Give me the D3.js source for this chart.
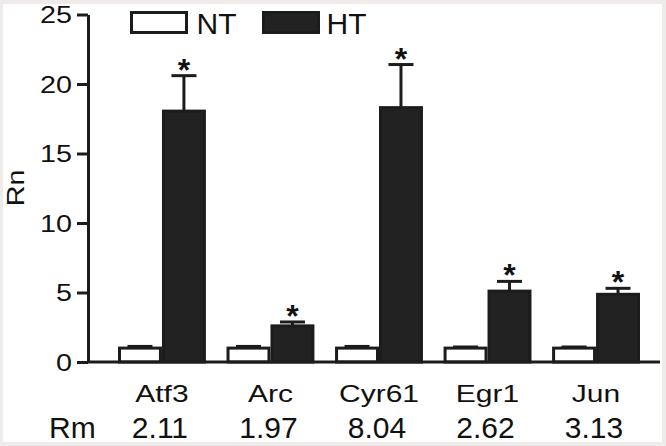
<!DOCTYPE html>
<html>
<head>
<meta charset="utf-8">
<script src="https://cdn.jsdelivr.net/npm/d3@7"></script>
<style>
  body { margin: 0; background: #efebeb; }
  text { font-family: "Liberation Sans", Arial, sans-serif; fill: #111; }
</style>
</head>
<body>
<svg id="chart" width="666" height="446"></svg>
<script>
// data
var genes = ['Atf3', 'Arc', 'Cyr61', 'Egr1', 'Jun'],
    rmValues = ['2.11', '1.97', '8.04', '2.62', '3.13'],
    ntMean = [1, 1, 1, 1, 1],
    ntErr = [0.12, 0.12, 0.12, 0.08, 0.08],
    htMean = [18.05, 2.6, 18.3, 5.1, 4.87],
    htErr = [2.55, 0.28, 3.1, 0.7, 0.43],
    yTicks = [0, 5, 10, 15, 20, 25],
    series = ['NT', 'HT'];

var svg = d3.select('#chart'),
    ink = '#1c1c1c',
    stretch = 1.25;

// white panel on a grey page
svg.append('rect')
    .attr('x', 3).attr('y', 4)
    .attr('width', 659).attr('height', 438)
    .attr('fill', '#fff');

var x0 = d3.scaleBand()
        .domain(genes)
        .range([118, 640])
        .paddingInner(0.19)
        .paddingOuter(0),
    x1 = d3.scaleBand()
        .domain(series)
        .range([0, x0.bandwidth()]),
    y = d3.scaleLinear()
        .domain([0, 25])
        .range([362, 14.5]);

// rows per bar
var rows = [];
genes.forEach(function(g, i) {
    rows.push({gene: g, key: 'NT', mean: ntMean[i], err: ntErr[i], star: false});
    rows.push({gene: g, key: 'HT', mean: htMean[i], err: htErr[i], star: true});
});

var barMid = function(d) { return x0(d.gene) + x1(d.key) + x1.bandwidth() / 2; };

// error bars (drawn first so bar covers the stem start)
var errs = svg.append('g');
errs.selectAll('.stem').data(rows).enter()
  .append('line')
    .attr('x1', barMid)
    .attr('x2', barMid)
    .attr('y1', function(d) { return y(d.mean); })
    .attr('y2', function(d) { return y(d.mean + d.err); })
    .attr('stroke', ink)
    .attr('stroke-width', 3);
errs.selectAll('.cap').data(rows).enter()
  .append('line')
    .attr('x1', function(d) { return barMid(d) - 12.5; })
    .attr('x2', function(d) { return barMid(d) + 12.5; })
    .attr('y1', function(d) { return y(d.mean + d.err); })
    .attr('y2', function(d) { return y(d.mean + d.err); })
    .attr('stroke', ink)
    .attr('stroke-width', 3);

// bars
svg.append('g').selectAll('rect').data(rows).enter()
  .append('rect')
    .attr('x', function(d) { return x0(d.gene) + x1(d.key) + 1.5; })
    .attr('width', x1.bandwidth() - 3)
    .attr('y', function(d) { return y(d.mean); })
    .attr('height', function(d) { return y(0) - y(d.mean); })
    .attr('fill', function(d) { return d.key === 'HT' ? '#222' : '#fff'; })
    .attr('stroke', ink)
    .attr('stroke-width', 3);

// significance stars
svg.append('g').selectAll('text').data(rows.filter(function(d) { return d.star; })).enter()
  .append('text')
    .attr('x', barMid)
    .attr('y', function(d) { return y(d.mean + d.err) + 5; })
    .attr('text-anchor', 'middle')
    .style('font-size', '32px')
    .style('font-weight', 'bold')
    .text('*');

// y axis
var yAxis = svg.append('g')
    .attr('transform', 'translate(88,0)')
    .call(d3.axisLeft(y).tickValues(yTicks).tickSize(11).tickSizeOuter(0));
yAxis.select('.domain').attr('stroke', ink).attr('stroke-width', 3);
yAxis.selectAll('.tick line').attr('stroke', ink).attr('stroke-width', 3);
yAxis.selectAll('.tick text')
    .attr('x', -16 / stretch)
    .attr('dy', '0.36em')
    .attr('transform', 'scale(' + stretch + ',1)')
    .style('font-size', '23px')
    .style('font-family', '"Liberation Sans", Arial, sans-serif')
    .attr('fill', '#111');

// baseline
svg.append('line')
    .attr('x1', 88).attr('x2', 660)
    .attr('y1', y(0)).attr('y2', y(0))
    .attr('stroke', ink)
    .attr('stroke-width', 3);

// y label
svg.append('text')
    .attr('transform', 'translate(24,188) rotate(-90) scale(' + stretch + ',1)')
    .attr('text-anchor', 'middle')
    .style('font-size', '23px')
    .text('Rn');

// gene names
svg.append('g').selectAll('text').data(genes).enter()
  .append('text')
    .attr('transform', function(d) {
        return 'translate(' + (x0(d) + x0.bandwidth() / 2) + ',402) scale(' + stretch + ',1)';
    })
    .attr('text-anchor', 'middle')
    .style('font-size', '24px')
    .text(function(d) { return d; });

// Rm row
svg.append('text')
    .attr('x', 49).attr('y', 438)
    .style('font-size', '30px')
    .text('Rm');
svg.append('g').selectAll('text').data(rmValues).enter()
  .append('text')
    .attr('x', function(d, i) { return x0(genes[i]) + x0.bandwidth() / 2 - 2; })
    .attr('y', 438)
    .attr('text-anchor', 'middle')
    .style('font-size', '30px')
    .text(function(d) { return d; });

// legend
var legend = svg.append('g').selectAll('g').data(series).enter()
  .append('g')
    .attr('transform', function(d, i) { return 'translate(' + (131.5 + i * 132) + ',12.5)'; });
legend.append('rect')
    .attr('width', 55).attr('height', 20)
    .attr('fill', function(d) { return d === 'HT' ? '#222' : '#fff'; })
    .attr('stroke', ink)
    .attr('stroke-width', 3);
legend.append('text')
    .attr('x', function(d) { return d === 'HT' ? 63 : 65; })
    .attr('y', 21)
    .style('font-size', '30px')
    .text(function(d) { return d; });
</script>
</body>
</html>
